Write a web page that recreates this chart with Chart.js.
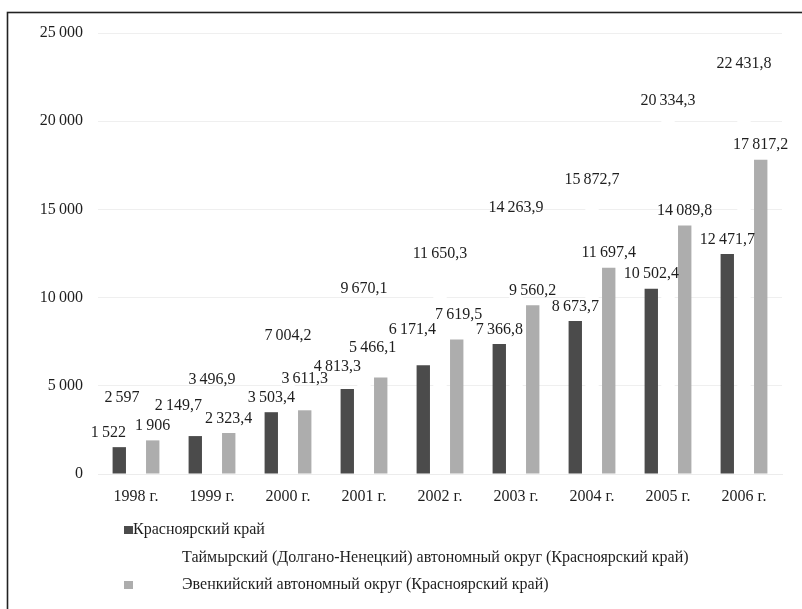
<!DOCTYPE html>
<html lang="ru">
<head>
<meta charset="utf-8">
<title>Красноярский край, Таймырский и Эвенкийский автономные округа, 1998–2006 гг.</title>
<script src="https://cdn.jsdelivr.net/npm/chart.js@4"></script>
<style>
  html, body { margin: 0; padding: 0; background: #ffffff; }
  #wrap { width: 802px; height: 609px; position: relative; }
</style>
</head>
<body>
<div id="wrap"><canvas id="chart" width="802" height="609"></canvas></div>
<script>
// Categories
const years = ['1998 г.', '1999 г.', '2000 г.', '2001 г.', '2002 г.', '2003 г.', '2004 г.', '2005 г.', '2006 г.'];

// Series values
const krasnoyarsk = [1522, 2149.7, 3503.4, 4813.3, 6171.4, 7366.8, 8673.7, 10502.4, 12471.7];
const taimyr      = [2597, 3496.9, 7004.2, 9670.1, 11650.3, 14263.9, 15872.7, 20334.3, 22431.8];
const evenki      = [1906, 2323.4, 3611.3, 5466.1, 7619.5, 9560.2, 11697.4, 14089.8, 17817.2];

// Series names
const seriesNames = [
  'Красноярский край',
  'Таймырский (Долгано-Ненецкий) автономный округ (Красноярский край)',
  'Эвенкийский автономный округ (Красноярский край)'
];

// Value axis ticks
const yTicks = [0, 5000, 10000, 15000, 20000, 25000];

// Manually shifted value labels: [dx, extra lift] per series and year
const labelShift = [
  [[-11, 0], [-17, 16], [0, 0], [-10, 8], [-11, 21], [0, 0], [0, 0], [0, 0], [0, 0]],
  [[-14, 16], [0, 18], [0, 0], [0, 0], [0, 0], [0, 0], [0, 0], [0, 0], [0, 0]],
  [[0, 0], [0, 0], [0, 17], [-8, 15], [2, 10], [0, 0], [0, 0], [0, 0], [0, 0]]
];

const SERIF = '"Liberation Serif", "Times New Roman", serif';
const TEXT = '#1e1e1e';

// Russian number style: thin-space groups, decimal comma
function fmt(v) {
  const parts = String(v).split('.');
  const grouped = parts[0].replace(/\B(?=(\d{3})+(?!\d))/g, '\u2009');
  return parts.length > 1 ? grouped + ',' + parts[1] : grouped;
}

// White page and the thin outer frame
const framePlugin = {
  id: 'frame',
  beforeDraw(chart) {
    const ctx = chart.ctx;
    ctx.save();
    ctx.fillStyle = '#ffffff';
    ctx.fillRect(0, 0, chart.width, chart.height);
    ctx.restore();
  },
  afterDraw(chart) {
    const ctx = chart.ctx;
    ctx.save();
    ctx.strokeStyle = '#222222';
    ctx.lineWidth = 1.6;
    ctx.strokeRect(7.5, 12.5, chart.width - 6.5, chart.height + 20);
    ctx.restore();
  }
};

// Value labels above each bar
const valueLabelPlugin = {
  id: 'valueLabels',
  afterDatasetsDraw(chart) {
    const ctx = chart.ctx;
    ctx.save();
    ctx.font = '16px ' + SERIF;
    ctx.fillStyle = TEXT;
    ctx.textAlign = 'center';
    ctx.textBaseline = 'middle';
    chart.data.datasets.forEach((ds, di) => {
      const meta = chart.getDatasetMeta(di);
      meta.data.forEach((bar, i) => {
        const shift = labelShift[di][i];
        ctx.fillText(fmt(ds.data[i]), bar.x + shift[0], bar.y - 14.5 - shift[1]);
      });
    });
    ctx.restore();
  }
};

// Legend stacked in three lines under the axis
const stackedLegendPlugin = {
  id: 'stackedLegend',
  afterDraw(chart) {
    const ctx = chart.ctx;
    const rows = [
      { y: 530, textX: 133 },
      { y: 558, textX: 182 },
      { y: 585, textX: 182 }
    ];
    ctx.save();
    ctx.font = '16px ' + SERIF;
    ctx.textBaseline = 'middle';
    ctx.textAlign = 'left';
    chart.data.datasets.forEach((ds, di) => {
      const r = rows[di];
      ctx.fillStyle = ds.backgroundColor;
      ctx.fillRect(124, r.y - 4, 9, 8);
      ctx.fillStyle = TEXT;
      ctx.fillText(ds.label, r.textX, r.y);
    });
    ctx.restore();
  }
};

new Chart(document.getElementById('chart'), {
  type: 'bar',
  data: {
    labels: years,
    datasets: [
      { label: seriesNames[0], data: krasnoyarsk, backgroundColor: '#4b4b4b' },
      { label: seriesNames[1], data: taimyr,      backgroundColor: '#ffffff' },
      { label: seriesNames[2], data: evenki,      backgroundColor: '#adadad' }
    ]
  },
  options: {
    responsive: false,
    animation: false,
    devicePixelRatio: 1,
    layout: { padding: { left: 0, top: 33, right: 20, bottom: 95 } },
    datasets: {
      bar: { categoryPercentage: 0.66, barPercentage: 0.8, borderWidth: 0 }
    },
    scales: {
      x: {
        grid: { display: false, drawTicks: false },
        border: { display: true, color: '#ececec', width: 1 },
        ticks: { color: TEXT, font: { family: SERIF, size: 16 }, padding: 13, maxRotation: 0 },
        afterFit(scale) { scale.height = 40; }
      },
      y: {
        min: 0,
        max: 25000,
        afterBuildTicks(scale) { scale.ticks = yTicks.map(v => ({ value: v })); },
        grid: { color: '#efefef', lineWidth: 1, drawTicks: false },
        border: { display: false },
        ticks: {
          color: TEXT,
          font: { family: SERIF, size: 16 },
          padding: 15,
          callback: (v) => fmt(v)
        },
        afterFit(scale) { scale.width = 98; }
      }
    },
    plugins: {
      legend: { display: false },
      tooltip: { enabled: false }
    }
  },
  plugins: [framePlugin, valueLabelPlugin, stackedLegendPlugin]
});
</script>
</body>
</html>
